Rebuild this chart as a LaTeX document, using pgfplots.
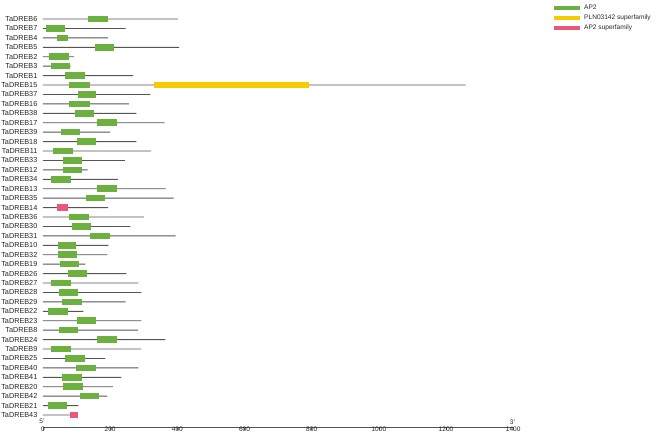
\documentclass[border=0pt]{standalone}
\usepackage{pgfplots}
\usepackage{pgfplotstable}
\pgfplotsset{compat=1.18}
\usepackage{fontspec}
\setmainfont{Liberation Sans}
\definecolor{apgreen}{RGB}{108,176,64}
\definecolor{plnyellow}{RGB}{248,202,0}
\definecolor{appink}{RGB}{232,88,122}
\definecolor{linegray}{RGB}{85,85,85}

% row index, protein length
\pgfplotstableread{
i len
1 402
2 246
3 194
4 405
5 93
6 82
7 268
8 1258
9 320
10 256
11 278
12 362
13 200
14 278
15 322
16 244
17 133
18 223
19 365
20 389
21 194
22 300
23 260
24 395
25 195
26 192
27 126
28 248
29 284
30 293
31 246
32 120
33 293
34 283
35 364
36 292
37 186
38 284
39 233
40 208
41 192
42 105
43 104
}\lengths

% AP2 domains: row, start, end
\pgfplotstableread{
i s e
1 134 193
2 10 66
3 42 73
4 154 211
5 18 76
6 25 80
7 65 126
8 77 139
9 104 159
10 77 139
11 94 153
12 162 220
13 53 110
14 100 159
15 30 88
16 60 115
17 59 115
18 24 82
19 162 220
20 127 186
22 77 138
23 86 143
24 140 199
25 44 98
26 46 102
27 50 106
28 74 130
29 23 83
30 48 104
31 58 115
32 16 73
33 101 159
34 49 104
35 162 220
36 24 82
37 66 125
38 98 157
39 58 115
40 61 118
41 110 167
42 15 71
}\aptwo

% PLN03142 superfamily
\pgfplotstableread{
i s e
8 330 793
}\pln

% AP2 superfamily
\pgfplotstableread{
i s e
21 42 74
43 81 104
}\apsuper

\pgfplotsset{
  domainbox/.style={forget plot, draw=none, mark=none,
    error bars/.cd, x dir=both, x explicit, error mark=none,
    error bar style={draw=#1, fill=none, line width=6.6bp, solid}},
}

\begin{document}
\begin{tikzpicture}
\path[use as bounding box] (-43bp,-6bp) rectangle (626bp,427bp);
\begin{axis}[
  at={(0,0)}, anchor=south west,
  scale only axis,
  width=470.2bp, height=417.4bp,
  xmin=0, xmax=1400,
  ymin=0, ymax=44.27,
  y dir=reverse,
  axis x line*=bottom,
  axis y line*=left,
  x axis line style={-, draw=linegray, line width=0.8bp},
  y axis line style={draw=none},
  xtick={0,200,...,1400},
  tick align=outside,
  xtick style={draw=linegray, line width=0.5bp},
  major tick length=3bp,
  ytick={1,...,43},
  ytick style={draw=none},
  yticklabels={TaDREB6,TaDREB7,TaDREB4,TaDREB5,TaDREB2,TaDREB3,TaDREB1,TaDREB15,TaDREB37,TaDREB16,TaDREB38,TaDREB17,TaDREB39,TaDREB18,TaDREB11,TaDREB33,TaDREB12,TaDREB34,TaDREB13,TaDREB35,TaDREB14,TaDREB36,TaDREB30,TaDREB31,TaDREB10,TaDREB32,TaDREB19,TaDREB26,TaDREB27,TaDREB28,TaDREB29,TaDREB22,TaDREB23,TaDREB8,TaDREB24,TaDREB9,TaDREB25,TaDREB40,TaDREB41,TaDREB20,TaDREB42,TaDREB21,TaDREB43},
  yticklabel style={font=\fontsize{7.3}{8}\selectfont, inner sep=0pt, xshift=-2.5bp, text=black!85},
  xticklabel style={font=\fontsize{6.6}{7}\selectfont, inner sep=0pt, yshift=2.8bp, text=black!85},
  /pgf/number format/assume math mode=true,
  /pgf/number format/1000 sep={},
  clip=false,
  legend cell align=left,
  legend image code/.code={\fill[#1, draw=none] (0bp,-2bp) rectangle (26bp,2bp);},
  legend style={draw=none, fill=none, at={(1.0868,1.0132)}, anchor=north west,
    inner sep=0pt, row sep=1.4bp, column sep=3bp,
    nodes={inner sep=1pt, font=\fontsize{6.6}{7.5}\selectfont, text=black!85}},
]
\addplot[forget plot, xbar, bar width=0.9bp, bar shift=0pt, fill=linegray, draw=none]
  table[x=len, y=i] {\lengths};
\addplot[domainbox=apgreen]
  table[x expr={(\thisrow{s}+\thisrow{e})/2}, y=i, x error expr={(\thisrow{e}-\thisrow{s})/2}] {\aptwo};
\addplot[domainbox=plnyellow]
  table[x expr={(\thisrow{s}+\thisrow{e})/2}, y=i, x error expr={(\thisrow{e}-\thisrow{s})/2}] {\pln};
\addplot[domainbox=appink]
  table[x expr={(\thisrow{s}+\thisrow{e})/2}, y=i, x error expr={(\thisrow{e}-\thisrow{s})/2}] {\apsuper};
\addlegendimage{fill=apgreen}
\addlegendentry{AP2}
\addlegendimage{fill=plnyellow}
\addlegendentry{PLN03142 superfamily}
\addlegendimage{fill=appink}
\addlegendentry{AP2 superfamily}
\node[font=\fontsize{6.5}{7}\selectfont, anchor=south east, inner sep=0pt, text=black!85] at (rel axis cs:0,0) [yshift=3bp, xshift=1.5bp] {5'};
\node[font=\fontsize{6.5}{7}\selectfont, anchor=south east, inner sep=0pt, text=black!85] at (rel axis cs:1,0) [yshift=2bp, xshift=2bp] {3'};
\end{axis}
\end{tikzpicture}
\end{document}
